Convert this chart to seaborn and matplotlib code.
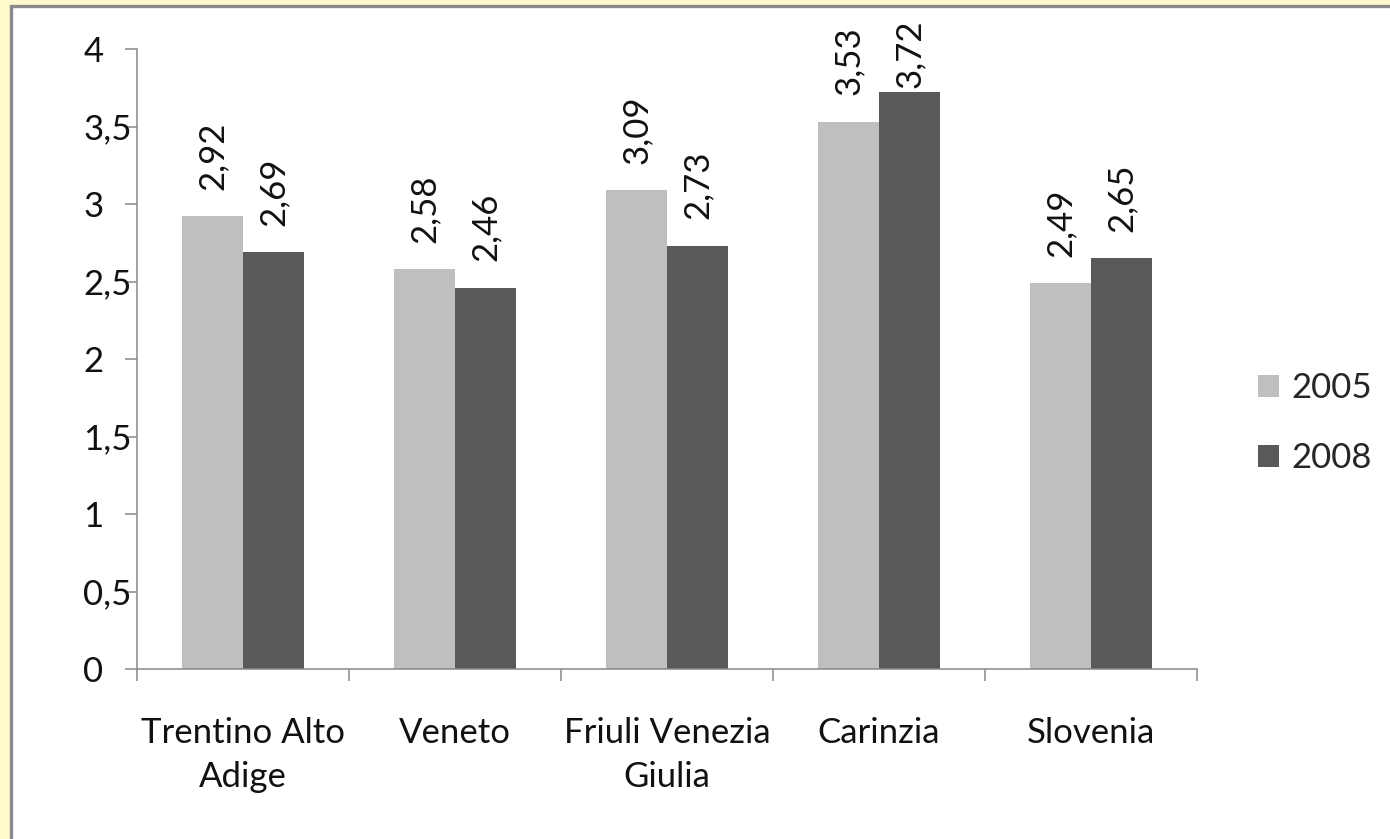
import matplotlib
matplotlib.use("Agg")
import matplotlib.pyplot as plt
from matplotlib.patches import Rectangle
from matplotlib.ticker import FuncFormatter, FixedLocator
import seaborn as sns
import pandas as pd

regions = ["Trentino Alto\nAdige", "Veneto", "Friuli Venezia\nGiulia", "Carinzia", "Slovenia"]
years = ["2005", "2008"]
values_2005 = [2.92, 2.58, 3.09, 3.53, 2.49]
values_2008 = [2.69, 2.46, 2.73, 3.72, 2.65]
yticks = [0, 0.5, 1, 1.5, 2, 2.5, 3, 3.5, 4]

df = pd.DataFrame({
    "region": regions * 2,
    "year": [years[0]] * len(regions) + [years[1]] * len(regions),
    "value": values_2005 + values_2008,
})

sns.set_style("white")
plt.rcParams["font.family"] = ["Lato", "DejaVu Sans"]
FS = 25
DPI = 100

fig = plt.figure(figsize=(13.9, 8.39), dpi=DPI)
fig.patch.set_facecolor("#FFF9CC")
fig.add_artist(Rectangle((10.5 / 1390, -0.1), 1.2, 1 - 5.5 / 839 + 0.1,
                         transform=fig.transFigure, facecolor="white",
                         edgecolor="#8A8A8A", linewidth=2.4, zorder=-5))

ax = fig.add_axes([137 / 1390, 1 - 669 / 839, (1197 - 137) / 1390, (669 - 49) / 839])
ax.set_facecolor("none")

palette = {"2005": "#BFBFBF", "2008": "#595959"}
sns.barplot(data=df, x="region", y="value", hue="year", palette=palette,
            width=0.58, saturation=1, ax=ax, linewidth=0, errorbar=None)

annotations = []
for cont in ax.containers:
    labels = [f"{b.get_height():.2f}".replace(".", ",") for b in cont]
    annotations += ax.bar_label(cont, labels=labels, rotation=90, padding=19,
                                fontsize=FS, color="#111111")

ax.set_ylim(0, 4)
ax.set_xlim(-0.5, 4.5)
ax.set_yticks(yticks)
ax.yaxis.set_major_formatter(FuncFormatter(lambda v, p: (f"{v:g}").replace(".", ",")))
ax.tick_params(axis="y", length=8.6, width=1.1, color="#878787", direction="out",
               pad=30, labelsize=FS, labelcolor="#111111", left=True)
for lab in ax.get_yticklabels():
    lab.set_horizontalalignment("left")

ax.xaxis.set_minor_locator(FixedLocator([-0.5, 0.5, 1.5, 2.5, 3.5, 4.5]))
ax.tick_params(axis="x", which="major", length=0, pad=34.5, labelsize=FS, labelcolor="#111111")
ax.tick_params(axis="x", which="minor", length=8.6, width=1.1, color="#878787",
               direction="out", bottom=True)
for lab in ax.get_xticklabels():
    lab.set_linespacing(1.45)

ax.set_xlabel("")
ax.set_ylabel("")
for s in ["top", "right"]:
    ax.spines[s].set_visible(False)
for s in ["left", "bottom"]:
    ax.spines[s].set_color("#878787")
    ax.spines[s].set_linewidth(1.1)

handles, lbls = ax.get_legend_handles_labels()
ax.legend(handles, lbls, loc="center left", bbox_to_anchor=(1258 / 1390, 1 - 423 / 839),
          bbox_transform=fig.transFigure, frameon=False, fontsize=FS,
          borderaxespad=0, borderpad=0,
          handlelength=0.6, handleheight=0.6, handletextpad=0.35, labelspacing=1.1)

# keep value labels inside the chart area (like the original chart does)
fig.canvas.draw()
renderer = fig.canvas.get_renderer()
H = fig.get_size_inches()[1] * DPI
for ann in annotations:
    bb = ann.get_window_extent(renderer)
    limit = H - 20
    if bb.y1 > limit:
        dx, dy = ann.xyann
        ann.xyann = (dx, dy - (bb.y1 - limit) * 72 / DPI)

fig.savefig("out.png", dpi=DPI)
